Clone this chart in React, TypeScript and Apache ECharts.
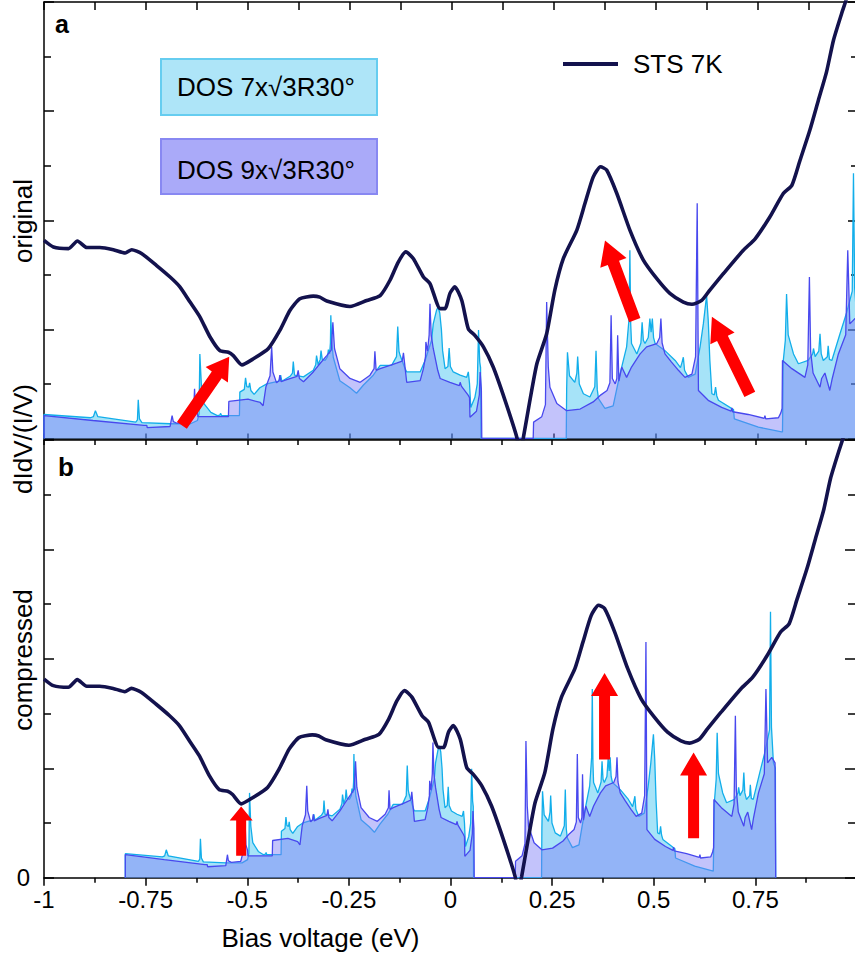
import React, { useEffect, useRef } from 'react';
import * as echarts from 'echarts';

const FONT = 'Liberation Sans, Arial, Helvetica, sans-serif';
const COMPRESS = 0.8;
const X_MIN = -1;
const X_MAX = 1;
const Y_MAX = 8;

// STS 7K measured curve [bias (eV), dI/dV/(I/V) arb.]
const STS: number[][] = [
  [-1.0, 3.63], [-0.977, 3.51], [-0.94, 3.48], [-0.918, 3.62], [-0.895, 3.5], [-0.863, 3.5],
  [-0.83, 3.46], [-0.801, 3.4], [-0.785, 3.46], [-0.761, 3.39], [-0.724, 3.17], [-0.691, 2.96],
  [-0.667, 2.78], [-0.642, 2.5], [-0.618, 2.23], [-0.593, 1.86], [-0.569, 1.61], [-0.548, 1.58],
  [-0.536, 1.52], [-0.515, 1.35], [-0.487, 1.46], [-0.45, 1.65], [-0.422, 1.98], [-0.397, 2.35],
  [-0.373, 2.56], [-0.34, 2.61], [-0.324, 2.59], [-0.307, 2.52], [-0.25, 2.42], [-0.209, 2.53],
  [-0.176, 2.62], [-0.152, 2.9], [-0.132, 3.23], [-0.113, 3.42], [-0.095, 3.3], [-0.07, 2.96],
  [-0.054, 2.84], [-0.029, 2.38], [-0.017, 2.38], [-0.005, 2.66], [0.007, 2.78], [0.024, 2.53],
  [0.04, 2.01], [0.056, 1.89], [0.077, 1.68], [0.101, 1.31], [0.13, 0.7], [0.159, 0.02],
  [0.166, -0.3], [0.175, 0.02], [0.191, 0.7], [0.208, 1.37], [0.232, 1.92], [0.252, 2.72],
  [0.273, 3.3], [0.306, 3.82], [0.326, 4.31], [0.346, 4.79], [0.364, 4.98], [0.379, 4.92],
  [0.404, 4.49], [0.436, 3.82], [0.469, 3.27], [0.502, 2.93], [0.534, 2.66], [0.567, 2.5],
  [0.588, 2.46], [0.612, 2.53], [0.632, 2.72], [0.665, 3.02], [0.714, 3.45], [0.743, 3.66],
  [0.779, 4.06], [0.812, 4.49], [0.833, 4.64], [0.853, 5.1], [0.877, 5.65], [0.898, 6.2],
  [0.918, 6.72], [0.935, 7.3], [0.955, 7.79], [0.966, 8.04], [0.985, 8.6],
];

// DOS 7x√3R30° (original energy scale)
const DOS7: number[][] = [
  [-1.0, 0], [-1.0, 0.44], [-0.886, 0.38], [-0.879, 0.4], [-0.874, 0.51], [-0.868, 0.4],
  [-0.775, 0.3], [-0.771, 0.34], [-0.769, 0.71], [-0.766, 0.36], [-0.76, 0.29], [-0.69, 0.27],
  [-0.641, 0.27], [-0.624, 0.33], [-0.62, 0.45], [-0.618, 1.55], [-0.614, 0.94], [-0.608, 0.64],
  [-0.591, 0.48], [-0.575, 0.42], [-0.569, 0.43], [-0.567, 0.46], [-0.565, 0.42], [-0.521, 0.42],
  [-0.52, 0.85], [-0.509, 0.9], [-0.506, 1.11], [-0.503, 0.95], [-0.498, 0.94], [-0.496, 1.02],
  [-0.493, 0.88], [-0.485, 0.81], [-0.471, 0.93], [-0.454, 1.0], [-0.438, 1.03], [-0.424, 1.05],
  [-0.42, 1.16], [-0.417, 1.05], [-0.397, 1.14], [-0.391, 1.2], [-0.389, 1.41], [-0.386, 1.16],
  [-0.364, 1.13], [-0.34, 1.25], [-0.334, 1.35], [-0.332, 1.52], [-0.328, 1.35], [-0.323, 1.45],
  [-0.321, 1.61], [-0.318, 1.45], [-0.311, 1.43], [-0.305, 1.5], [-0.303, 1.63], [-0.3, 1.55],
  [-0.298, 1.75], [-0.297, 2.26], [-0.295, 1.8], [-0.291, 1.49], [-0.275, 1.06], [-0.25, 0.93],
  [-0.234, 0.83], [-0.217, 0.98], [-0.193, 1.16], [-0.176, 1.34], [-0.148, 1.34], [-0.136, 1.5],
  [-0.133, 2.05], [-0.13, 1.6], [-0.127, 1.52], [-0.115, 1.28], [-0.111, 1.22], [-0.078, 1.22],
  [-0.066, 1.43], [-0.05, 1.8], [-0.046, 2.1], [-0.038, 2.35], [-0.034, 2.41], [-0.03, 2.3],
  [-0.026, 2.0], [-0.023, 1.61], [-0.017, 1.28], [-0.01, 1.32], [-0.007, 1.66], [-0.004, 1.32],
  [0.003, 1.22], [0.02, 1.16], [0.036, 1.12], [0.04, 1.22], [0.043, 1.0], [0.046, 0.57],
  [0.056, 0.75], [0.062, 1.0], [0.065, 1.99], [0.068, 1.4], [0.07, 1.3], [0.071, 0],
  [0.28, 0], [0.281, 0.9], [0.283, 1.58], [0.288, 1.15], [0.301, 1.03], [0.306, 1.2],
  [0.308, 1.5], [0.312, 1.0], [0.322, 0.82], [0.338, 0.76], [0.35, 0.95], [0.353, 1.61],
  [0.356, 0.9], [0.359, 0.73], [0.375, 0.55], [0.395, 0.6], [0.405, 0.95], [0.412, 1.19],
  [0.428, 1.68], [0.434, 2.2], [0.436, 3.45], [0.438, 2.1], [0.44, 1.74], [0.453, 1.55],
  [0.463, 1.75], [0.466, 2.13], [0.469, 1.8], [0.473, 1.74], [0.481, 1.85], [0.485, 2.2],
  [0.488, 1.95], [0.491, 2.2], [0.494, 1.85], [0.498, 1.74], [0.522, 1.61], [0.547, 1.43],
  [0.56, 1.3], [0.564, 1.4], [0.567, 1.49], [0.57, 1.25], [0.579, 1.12], [0.596, 1.18],
  [0.608, 1.68], [0.616, 2.1], [0.624, 2.62], [0.628, 2.17], [0.632, 1.43], [0.637, 0.82],
  [0.643, 0.8], [0.646, 0.94], [0.649, 0.78], [0.653, 0.7], [0.69, 0.53], [0.692, 0.36],
  [0.751, 0.21], [0.808, 0.12], [0.81, 0.12], [0.812, 1.43], [0.817, 1.8], [0.82, 2.65],
  [0.824, 1.9], [0.837, 1.55], [0.849, 1.37], [0.873, 1.43], [0.884, 1.55], [0.886, 1.65],
  [0.89, 1.5], [0.899, 1.6], [0.902, 1.92], [0.905, 1.55], [0.91, 1.43], [0.92, 1.5],
  [0.922, 1.7], [0.925, 1.45], [0.931, 1.43], [0.951, 1.92], [0.967, 2.3], [0.981, 2.7],
  [0.984, 4.86], [0.987, 2.75], [0.993, 2.1], [0.999, 2.0], [1.0, 0],
];

// DOS 9x√3R30° (original energy scale)
const DOS9: number[][] = [
  [-1.0, 0], [-1.0, 0.42], [-0.88, 0.33], [-0.755, 0.24], [-0.748, 0.24], [-0.747, 0.2],
  [-0.691, 0.22], [-0.689, 0.3], [-0.686, 0.42], [-0.683, 0.31], [-0.674, 0.28], [-0.645, 0.3],
  [-0.638, 0.46], [-0.633, 0.55], [-0.631, 0.91], [-0.629, 0.6], [-0.624, 0.5], [-0.623, 0.4],
  [-0.548, 0.4], [-0.547, 0.68], [-0.5, 0.72], [-0.47, 0.66], [-0.463, 0.6], [-0.456, 0.95],
  [-0.446, 1.15], [-0.442, 1.68], [-0.439, 1.22], [-0.43, 1.02], [-0.424, 1.06], [-0.422, 1.16],
  [-0.419, 1.04], [-0.405, 1.08], [-0.38, 1.14], [-0.377, 1.25], [-0.374, 1.1], [-0.364, 1.04],
  [-0.34, 1.22], [-0.324, 1.37], [-0.307, 1.52], [-0.296, 1.62], [-0.292, 2.13], [-0.288, 1.65],
  [-0.275, 1.28], [-0.25, 1.1], [-0.225, 1.03], [-0.201, 1.16], [-0.191, 1.28], [-0.189, 1.6],
  [-0.186, 1.25], [-0.176, 1.28], [-0.152, 1.34], [-0.136, 1.38], [-0.122, 1.42], [-0.119, 1.57],
  [-0.115, 1.3], [-0.111, 1.03], [-0.078, 1.06], [-0.07, 1.28], [-0.065, 1.5], [-0.064, 1.77],
  [-0.06, 1.6], [-0.056, 1.9], [-0.054, 2.47], [-0.051, 1.9], [-0.046, 1.65], [-0.035, 1.25],
  [-0.029, 1.1], [-0.005, 1.03], [0.018, 0.97], [0.02, 1.03], [0.023, 0.96], [0.04, 0.79],
  [0.043, 0.75], [0.044, 0.39], [0.06, 0.5], [0.067, 0.8], [0.069, 1.22], [0.072, 0.9],
  [0.073, 0], [0.199, 0], [0.2, 0.3], [0.22, 0.4], [0.229, 0.62], [0.232, 2.5],
  [0.236, 1.31], [0.24, 0.94], [0.257, 0.64], [0.281, 0.51], [0.314, 0.54], [0.346, 0.67],
  [0.365, 0.8], [0.38, 0.88], [0.387, 1.02], [0.39, 2.26], [0.393, 1.1], [0.4, 1.0],
  [0.404, 1.1], [0.406, 1.89], [0.409, 1.05], [0.416, 1.31], [0.428, 1.12], [0.44, 1.31],
  [0.461, 1.55], [0.477, 1.68], [0.502, 1.74], [0.509, 1.85], [0.512, 2.2], [0.515, 1.75],
  [0.522, 1.55], [0.538, 1.4], [0.555, 1.25], [0.571, 1.12], [0.588, 1.18], [0.597, 1.5],
  [0.601, 4.31], [0.604, 0.88], [0.628, 0.7], [0.661, 0.57], [0.684, 0.5], [0.686, 0.56],
  [0.688, 0.49], [0.726, 0.44], [0.765, 0.37], [0.767, 0.42], [0.769, 0.36], [0.8, 0.38],
  [0.806, 0.47], [0.809, 0.55], [0.81, 1.43], [0.833, 1.28], [0.865, 1.12], [0.872, 1.35],
  [0.876, 2.96], [0.879, 1.6], [0.885, 1.2], [0.902, 0.94], [0.906, 1.1], [0.914, 1.2],
  [0.926, 0.88], [0.932, 1.1], [0.947, 1.55], [0.965, 1.9], [0.97, 3.45], [0.975, 2.1],
  [0.988, 2.2], [0.998, 2.1], [1.0, 0],
];

// red arrows: tail and tip in data units
const ARROWS = [
  { panel: 0, tail: [-0.662, 0.24], tip: [-0.546, 1.5], shaft: 12, head: 27, headLen: 22 },
  { panel: 0, tail: [0.448, 2.17], tip: [0.375, 3.63], shaft: 12, head: 28, headLen: 24 },
  { panel: 0, tail: [0.73, 0.81], tip: [0.637, 2.23], shaft: 12, head: 27, headLen: 24 },
  { panel: 1, tail: [-0.515, 0.4], tip: [-0.515, 1.3], shaft: 10, head: 23, headLen: 14 },
  { panel: 1, tail: [0.379, 2.16], tip: [0.379, 3.74], shaft: 11, head: 27, headLen: 23 },
  { panel: 1, tail: [0.598, 0.72], tip: [0.598, 2.29], shaft: 11, head: 27, headLen: 23 },
];

const NAME_STS = 'STS 7K';
const NAME_7 = 'DOS 7x√3R30°';
const NAME_9 = 'DOS 9x√3R30°';

const CYAN_LINE = '#12aeea';
const CYAN_FILL = 'rgba(0,175,235,0.5)';
const PURPLE_LINE = '#4848ee';
const PURPLE_FILL = 'rgba(126,126,247,0.66)';
const STS_COLOR = '#13124d';

function arrowPolygon(T: number[], P: number[], shaft: number, head: number, headLen: number) {
  const dx = P[0] - T[0];
  const dy = P[1] - T[1];
  const L = Math.hypot(dx, dy);
  const ux = dx / L, uy = dy / L;
  const nx = -uy, ny = ux;
  const bx = P[0] - ux * headLen, by = P[1] - uy * headLen;
  return [
    [T[0] + nx * shaft / 2, T[1] + ny * shaft / 2],
    [bx + nx * shaft / 2, by + ny * shaft / 2],
    [bx + nx * head / 2, by + ny * head / 2],
    [P[0], P[1]],
    [bx - nx * head / 2, by - ny * head / 2],
    [bx - nx * shaft / 2, by - ny * shaft / 2],
    [T[0] - nx * shaft / 2, T[1] - ny * shaft / 2],
  ];
}

function xAxisDef(gridIndex: number, position: 'top' | 'bottom', opts: any) {
  return {
    type: 'value', gridIndex, position, min: X_MIN, max: X_MAX, interval: 0.25,
    axisLine: { show: true, onZero: false, lineStyle: { color: '#000', width: 1.5 } },
    splitLine: { show: false },
    ...opts,
  };
}

function yAxisDef(gridIndex: number, position: 'left' | 'right', opts: any) {
  return {
    type: 'value', gridIndex, position, min: 0, max: Y_MAX, interval: 2,
    axisLine: { show: true, onZero: false, lineStyle: { color: '#000', width: 1.5 } },
    splitLine: { show: false },
    ...opts,
  };
}

export default function App() {
  const ref = useRef<HTMLDivElement>(null);

  useEffect(() => {
    if (!ref.current) return;
    const chart = echarts.init(ref.current, undefined, { renderer: 'svg' });

    const dos7b = DOS7.map(([x, y]) => [x * COMPRESS, y]);
    const dos9b = DOS9.map(([x, y]) => [x * COMPRESS, y]);

    const noLabel = { show: false };
    const tickStyle = { color: '#000', width: 1.5 };

    const option: any = {
      animation: false,
      backgroundColor: '#fff',
      textStyle: { fontFamily: FONT },
      grid: [
        { left: 44, top: 2, width: 816, height: 436.5 },
        { left: 44, top: 440, width: 816, height: 437.7 },
      ],
      xAxis: [
        xAxisDef(0, 'bottom', {
          axisLabel: noLabel,
          axisTick: { show: true, inside: true, length: 5, lineStyle: tickStyle },
        }),
        xAxisDef(0, 'top', {
          axisLabel: noLabel,
          axisTick: { show: true, inside: true, length: 8, lineStyle: tickStyle },
          minorTick: { show: true, splitNumber: 2, length: 8, lineStyle: tickStyle },
        }),
        xAxisDef(1, 'bottom', {
          axisLabel: {
            show: true, fontSize: 24, color: '#000', fontFamily: FONT, margin: 10,
            formatter: (v: number) => (v > 0.95 ? '' : String(Math.round(v * 100) / 100)),
          },
          axisTick: { show: true, inside: false, length: 8, lineStyle: tickStyle },
          minorTick: { show: true, splitNumber: 2, length: 5, lineStyle: tickStyle },
        }),
        xAxisDef(1, 'top', {
          axisLabel: noLabel,
          axisTick: { show: true, inside: true, length: 5, lineStyle: tickStyle },
          minorTick: { show: true, splitNumber: 2, length: 5, lineStyle: tickStyle },
        }),
      ],
      yAxis: [
        yAxisDef(0, 'left', {
          axisLabel: noLabel,
          axisTick: { show: true, inside: true, length: 10, lineStyle: tickStyle },
          minorTick: { show: true, splitNumber: 2, length: 7, lineStyle: tickStyle },
        }),
        yAxisDef(0, 'right', {
          axisLabel: noLabel,
          axisTick: { show: true, inside: true, length: 12, lineStyle: tickStyle },
          minorTick: { show: true, splitNumber: 2, length: 9, lineStyle: tickStyle },
        }),
        yAxisDef(1, 'left', {
          axisLabel: {
            show: true, fontSize: 24, color: '#000', fontFamily: FONT, margin: 14,
            formatter: (v: number) => (v === 0 ? '0' : ''),
          },
          axisTick: { show: true, inside: true, length: 10, lineStyle: tickStyle },
          minorTick: { show: true, splitNumber: 2, length: 7, lineStyle: tickStyle },
        }),
        yAxisDef(1, 'right', {
          axisLabel: noLabel,
          axisTick: { show: true, inside: true, length: 12, lineStyle: tickStyle },
          minorTick: { show: true, splitNumber: 2, length: 9, lineStyle: tickStyle },
        }),
      ],
      legend: {
        data: [{ name: NAME_STS, icon: 'rect' }],
        left: 563,
        top: 51,
        padding: 0,
        itemWidth: 55,
        itemHeight: 4,
        itemStyle: { color: STS_COLOR },
        textStyle: { fontSize: 26, color: '#000', fontFamily: FONT, padding: [0, 0, 0, 10] },
        selectedMode: false,
      },
      series: [
        {
          name: NAME_7, type: 'line', xAxisIndex: 0, yAxisIndex: 0, data: DOS7,
          symbol: 'none', silent: true, z: 2,
          lineStyle: { color: CYAN_LINE, width: 1.3 }, itemStyle: { color: CYAN_LINE },
          areaStyle: { color: CYAN_FILL, origin: 'start' },
        },
        {
          name: NAME_9, type: 'line', xAxisIndex: 0, yAxisIndex: 0, data: DOS9,
          symbol: 'none', silent: true, z: 3,
          lineStyle: { color: PURPLE_LINE, width: 1.3 }, itemStyle: { color: PURPLE_LINE },
          areaStyle: { color: PURPLE_FILL, origin: 'start' },
        },
        {
          name: NAME_STS, type: 'line', xAxisIndex: 0, yAxisIndex: 0, data: STS,
          symbol: 'none', silent: true, z: 5, smooth: 0.2, clip: true,
          lineStyle: { color: STS_COLOR, width: 3.6 }, itemStyle: { color: STS_COLOR },
        },
        {
          name: NAME_7, type: 'line', xAxisIndex: 2, yAxisIndex: 2, data: dos7b,
          symbol: 'none', silent: true, z: 2,
          lineStyle: { color: CYAN_LINE, width: 1.3 }, itemStyle: { color: CYAN_LINE },
          areaStyle: { color: CYAN_FILL, origin: 'start' },
        },
        {
          name: NAME_9, type: 'line', xAxisIndex: 2, yAxisIndex: 2, data: dos9b,
          symbol: 'none', silent: true, z: 3,
          lineStyle: { color: PURPLE_LINE, width: 1.3 }, itemStyle: { color: PURPLE_LINE },
          areaStyle: { color: PURPLE_FILL, origin: 'start' },
        },
        {
          name: NAME_STS, type: 'line', xAxisIndex: 2, yAxisIndex: 2, data: STS,
          symbol: 'none', silent: true, z: 5, smooth: 0.2, clip: true,
          lineStyle: { color: STS_COLOR, width: 3.6 }, itemStyle: { color: STS_COLOR },
        },
      ],
    };

    chart.setOption(option);

    const arrowEls = ARROWS.map((a) => {
      const xi = a.panel === 0 ? 0 : 2;
      const yi = a.panel === 0 ? 0 : 2;
      const T = chart.convertToPixel({ xAxisIndex: xi, yAxisIndex: yi } as any, a.tail) as number[];
      const P = chart.convertToPixel({ xAxisIndex: xi, yAxisIndex: yi } as any, a.tip) as number[];
      return {
        type: 'polygon', z: 100, silent: true,
        shape: { points: arrowPolygon(T, P, a.shaft, a.head, a.headLen) },
        style: { fill: '#ff0000', stroke: 'none' },
      };
    });

    const txt = (text: string, x: number, y: number, extra: any = {}) => ({
      type: 'text', x, y, z: 50, silent: true,
      style: {
        text, fill: '#000', fontSize: 26, fontFamily: FONT,
        align: 'left', verticalAlign: 'middle', ...extra,
      },
    });

    const graphics: any[] = [
      {
        type: 'rect', z: 40, silent: true,
        shape: { x: 161, y: 59, width: 216, height: 56 },
        style: { fill: '#aee5f8', stroke: '#66cdf0', lineWidth: 2 },
      },
      {
        type: 'rect', z: 40, silent: true,
        shape: { x: 161, y: 139, width: 216, height: 55 },
        style: { fill: '#aaaaf9', stroke: '#8888f2', lineWidth: 2 },
      },
      txt(NAME_7, 177, 87),
      txt(NAME_9, 177, 170),
      txt('a', 55, 24, { fontWeight: 'bold', fontSize: 25 }),
      txt('b', 58, 467, { fontWeight: 'bold', fontSize: 26 }),
      { ...txt('original', 23, 221, { align: 'center' }), rotation: Math.PI / 2 },
      { ...txt('dIdV/(I/V)', 23, 439, { align: 'center' }), rotation: Math.PI / 2 },
      { ...txt('compressed', 23, 660, { align: 'center' }), rotation: Math.PI / 2 },
      txt('Bias voltage (eV)', 320.5, 937.6, { align: 'center' }),
      ...arrowEls,
    ];

    chart.setOption({ graphic: { elements: graphics } });

    return () => {
      chart.dispose();
    };
  }, []);

  return (
    <div style={{ position: 'fixed', left: 0, top: 0, width: 855, height: 955, overflow: 'hidden', background: '#fff' }}>
      <div ref={ref} style={{ width: 860, height: 955 }} />
    </div>
  );
}
